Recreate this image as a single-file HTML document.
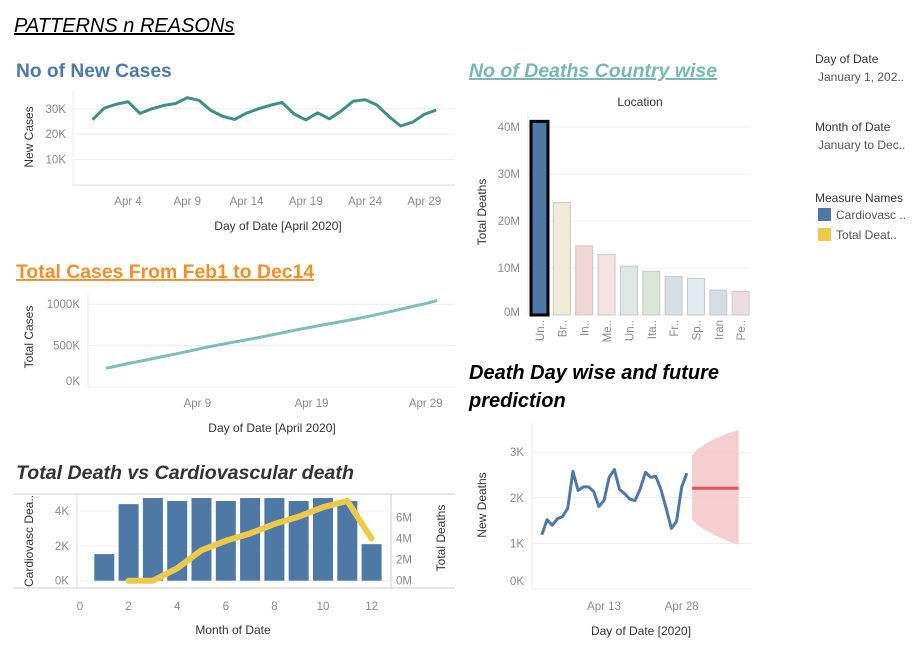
<!DOCTYPE html>
<html><head><meta charset="utf-8">
<style>
html,body{margin:0;padding:0;background:#fff;}
svg{display:block;font-family:"Liberation Sans",sans-serif;}
.tick{fill:#8a8a8a;font-size:11.5px;}
.ttl{fill:#333;font-size:12px;}
.grid{stroke:#ececec;stroke-width:1;}
</style></head>
<body>
<svg id="s" width="919" height="657" viewBox="0 0 919 657">
<text x="14" y="32" font-size="20" font-style="italic" fill="#000" text-decoration="underline">PATTERNS n REASONs</text>
<text x="16" y="77" font-size="19.2" font-weight="bold" fill="#4e79a7">No of New Cases</text>
<text x="16" y="278" font-size="19.4" font-weight="bold" fill="#f28e2b" text-decoration="underline">Total Cases From Feb1 to Dec14</text>
<text x="16" y="479" font-size="19.6" font-weight="bold" font-style="italic" fill="#333">Total Death vs Cardiovascular death</text>
<text x="469" y="77" font-size="19.5" font-weight="bold" font-style="italic" fill="#76b7b2" text-decoration="underline">No of Deaths Country wise</text>
<text x="469" y="379" font-size="20" font-weight="bold" font-style="italic" fill="#000">Death Day wise and future</text>
<text x="469" y="407" font-size="20" font-weight="bold" font-style="italic" fill="#000">prediction</text>

<g>
<text x="815" y="63" font-size="12" fill="#333">Day of Date</text>
<text x="818" y="81" font-size="12" fill="#555">January 1, 202..</text></g>
<g>
<text x="815" y="131" font-size="12" fill="#333">Month of Date</text>
<text x="818" y="149" font-size="12" fill="#555">January to Dec..</text></g>
<g>
<text x="815" y="202" font-size="12" fill="#333">Measure Names</text>
<g><rect x="818" y="208" width="13" height="13" fill="#4e79a7"/><text x="836" y="219" font-size="12" fill="#555">Cardiovasc ..</text></g>
<g><rect x="818" y="228" width="13" height="13" fill="#edc948"/><text x="836" y="239" font-size="12" fill="#555">Total Deat..</text></g>
</g>
</svg>
<script>
// Chart 1: New cases (K), Apr 1..30
const newCases=[25.7,30.3,31.8,32.8,28.2,30,31.3,32.1,34.4,33.3,29.3,27,25.8,28.3,30,31.4,32.5,28,25.6,28.4,26,29.2,33,33.6,31.5,27,23.2,24.7,27.8,29.5];
const newCasesTicks=[10,20,30];
const newCasesDays=[4,9,14,19,24,29];
// Chart 2: Total cases (K)
const totalCases=[226,255,285,312,340,368,396,425,455,485,512,538,562,588,614,642,670,698,724,750,774,800,826,854,884,914,946,978,1008,1045];
const totalCasesTicks=[0,500,1000];
const totalCasesDays=[9,19,29];
// Chart 3: cardio (K) by month, total deaths (M)
const months=[1,2,3,4,5,6,7,8,9,10,11,12];
const cardioDeaths=[1.53,4.4,4.75,4.58,4.75,4.58,4.75,4.75,4.58,4.75,4.58,2.1];
const lineMonths=[2,3,4,5,6,7,8,9,10,11,12];
const totalDeathsM=[0,0,1.18,2.9,3.8,4.5,5.4,6.1,7.0,7.6,4.0];
const monthTicks=[0,2,4,6,8,10,12];
const cardioTicks=[0,2,4];
const totalTicks=[0,2,4,6];
// Chart 4: deaths by location (M)
const locations=["Un..","Br..","In..","Me..","Un..","Ita..","Fr..","Sp..","Iran","Pe.."];
const locDeaths=[41.2,23.9,14.7,12.9,10.4,9.3,8.2,7.8,5.3,5.0];
const locColors=["#4e79a7","#f1ead6","#f0d6d6","#f3e2e2","#dfe7e4","#dbe6d8","#d7dee6","#e3eaf1","#d6dce3","#eddde2"];
const locTicks=[0,10,20,30,40];
// Chart 5: new deaths (K) Apr 1..29, forecast Apr 30..39
const newDeaths=[1.19,1.52,1.40,1.54,1.59,1.77,2.58,2.16,2.24,2.24,2.14,1.81,1.94,2.45,2.62,2.18,2.09,1.97,1.94,2.2,2.56,2.45,2.47,2.18,1.77,1.33,1.48,2.24,2.54];
const fcDays=[30,31,32,33,34,35,36,37,38,39];
const fcMean=[2.21,2.21,2.21,2.21,2.21,2.21,2.21,2.21,2.21,2.21];
const fcUpper=[2.94,3.06,3.14,3.21,3.27,3.32,3.37,3.41,3.45,3.49];
const fcLower=[1.53,1.41,1.33,1.26,1.2,1.15,1.1,1.05,1.01,0.97];
const deathTicks=[0,1,2,3];
const deathDays=[13,28];

const S=document.getElementById('s');const NS='http://www.w3.org/2000/svg';
function el(t,a,p){const e=document.createElementNS(NS,t);for(const k in a)e.setAttribute(k,a[k]);(p||S).appendChild(e);return e;}
function txt(x,y,s,cls,extra,p){const e=el('text',Object.assign({x:x,y:y,class:cls},extra||{}),p);e.textContent=s;return e;}
function grp(name){const g=el('g',{});return g;}

// ---- Chart 1
(function(){const g=grp('new-cases-chart');
const X=d=>92.5+(d-1)*11.85, Y=v=>184.7-v*2.53;
el('line',{x1:73,y1:90,x2:73,y2:185,class:'grid'},g);
el('line',{x1:73,y1:185,x2:455,y2:185,stroke:'#ddd'},g);
newCasesTicks.forEach(t=>{el('line',{x1:73,y1:Y(t),x2:455,y2:Y(t),class:'grid'},g);const l=txt(66,Y(t)+4,t+'K','tick',{'text-anchor':'end'},g);});
newCasesDays.forEach(d=>{const l=txt(X(d),205,'Apr '+d,'tick',{'text-anchor':'middle'},g);});
const p=el('path',{d:newCases.map((v,i)=>(i?'L':'M')+X(i+1)+','+Y(v)).join(''),fill:'none',stroke:'#3e9085','stroke-width':3,'stroke-linejoin':'round'},g);

const a=txt(278,230,'Day of Date [April 2020]','ttl',{'text-anchor':'middle'},g);
const b=txt(0,0,'New Cases','ttl',{'text-anchor':'middle',transform:'translate(33,137) rotate(-90)'},g);
})();

// ---- Chart 2
(function(){const g=grp('total-cases-chart');
const X=d=>106+(d-1)*11.42, Y=v=>387-v*0.0828;
el('line',{x1:88,y1:292,x2:88,y2:387,class:'grid'},g);
el('line',{x1:88,y1:387,x2:455,y2:387,stroke:'#ddd'},g);
totalCasesTicks.forEach(t=>{el('line',{x1:88,y1:Y(t),x2:455,y2:Y(t),class:'grid'},g);const l=txt(80,Y(t)+4-(t==0?6:0),t+'K','tick',{'text-anchor':'end'},g);});
totalCasesDays.forEach(d=>{const l=txt(X(d),407,'Apr '+d,'tick',{'text-anchor':'middle'},g);});
const p=el('path',{d:totalCases.map((v,i)=>(i?'L':'M')+X(i+1)+','+Y(v)).join(''),fill:'none',stroke:'#7bbfb5','stroke-width':3,'stroke-linejoin':'round'},g);

const a=txt(272,432,'Day of Date [April 2020]','ttl',{'text-anchor':'middle'},g);
const b=txt(0,0,'Total Cases','ttl',{'text-anchor':'middle',transform:'translate(33,337) rotate(-90)'},g);
})();

// ---- Chart 3
(function(){const g=grp('death-vs-cardio-chart');
const X=m=>80+m*24.3, YL=v=>580.7-v*17.4, YR=v=>580.7-v*10.5;
el('line',{x1:13,y1:494,x2:455,y2:494,stroke:'#ccc'},g);
el('line',{x1:13,y1:588,x2:455,y2:588,stroke:'#ccc'},g);
el('line',{x1:77,y1:494,x2:77,y2:588,stroke:'#ddd'},g);
el('line',{x1:391,y1:494,x2:391,y2:588,stroke:'#ccc'},g);
el('line',{x1:80,y1:580.7,x2:390,y2:580.7,stroke:'#bbb','stroke-dasharray':'1,2'},g);
cardioTicks.forEach(t=>{el('line',{x1:77,y1:YL(t),x2:391,y2:YL(t),stroke:'#f3f3f3'},g);const l=txt(69,YL(t)+4,t+'K','tick',{'text-anchor':'end'},g);});
totalTicks.forEach(t=>{const l=txt(396,YR(t)+4,t+'M','tick',{},g);});
monthTicks.forEach(t=>{const l=txt(X(t),610,String(t),'tick',{'text-anchor':'middle'},g);});
months.forEach((m,i)=>{const r=el('rect',{x:X(m)-10,y:YL(cardioDeaths[i]),width:20,height:580.7-YL(cardioDeaths[i]),fill:'#4e79a7'},g);
});
const p=el('path',{d:lineMonths.map((m,i)=>(i?'L':'M')+X(m)+','+YR(totalDeathsM[i])).join(''),fill:'none',stroke:'#edc948','stroke-width':6,'stroke-linejoin':'round','stroke-linecap':'round'},g);

const a=txt(233,634,'Month of Date','ttl',{'text-anchor':'middle'},g);
const b=txt(0,0,'Cardiovasc Dea..','ttl',{'text-anchor':'middle',transform:'translate(33,541) rotate(-90)'},g);
const c=txt(0,0,'Total Deaths','ttl',{'text-anchor':'middle',transform:'translate(445,538) rotate(-90)'},g);
})();

// ---- Chart 4
(function(){const g=grp('country-deaths-chart');
const X=i=>531+i*22.35, Y=v=>315-v*4.7;
el('line',{x1:528,y1:112,x2:528,y2:315,class:'grid'},g);
el('line',{x1:528,y1:315,x2:751,y2:315,stroke:'#ddd'},g);
locTicks.forEach(t=>{el('line',{x1:528,y1:Y(t),x2:751,y2:Y(t),class:'grid'},g);const l=txt(520,Y(t)+4-(t==0?3:0),t+'M','tick',{'text-anchor':'end'},g);});
locDeaths.forEach((v,i)=>{const r=el('rect',{x:X(i),y:Y(v),width:17,height:315-Y(v),fill:locColors[i],stroke:i==0?'#000':'#c8c8c8','stroke-width':i==0?3:1},g);

const l=txt(0,0,locations[i],'tick',{'text-anchor':'end',transform:'translate('+(X(i)+13)+',320) rotate(-90)'},g);});
const a=txt(640,106,'Location','ttl',{'text-anchor':'middle'},g);
const b=txt(0,0,'Total Deaths','ttl',{'text-anchor':'middle',transform:'translate(486,212) rotate(-90)'},g);
})();

// ---- Chart 5
(function(){const g=grp('new-deaths-chart');
const X=d=>604+(d-13)*5.18, Y=v=>589-v*45.6;
el('line',{x1:532,y1:422,x2:532,y2:589,class:'grid'},g);
el('line',{x1:532,y1:589,x2:752,y2:589,class:'grid'},g);
deathTicks.forEach(t=>{if(t>0)el('line',{x1:532,y1:Y(t),x2:752,y2:Y(t),class:'grid'},g);const l=txt(524,Y(t)+4-(t==0?8:0),t+'K','tick',{'text-anchor':'end'},g);});
deathDays.forEach(d=>{const l=txt(X(d),610,'Apr '+d,'tick',{'text-anchor':'middle'},g);});
const band=el('path',{d:fcDays.map((d,i)=>(i?'L':'M')+X(d)+','+Y(fcUpper[i])).join('')+fcDays.slice().reverse().map((d,j)=>'L'+X(d)+','+Y(fcLower[fcDays.length-1-j])).join('')+'Z',fill:'#f5c6c8',opacity:0.85},g);

const fl=el('path',{d:fcDays.map((d,i)=>(i?'L':'M')+X(d)+','+Y(fcMean[i])).join(''),fill:'none',stroke:'#e15759','stroke-width':3},g);

const p=el('path',{d:newDeaths.map((v,i)=>(i?'L':'M')+X(i+1)+','+Y(v)).join(''),fill:'none',stroke:'#4e79a7','stroke-width':3,'stroke-linejoin':'round'},g);

const a=txt(641,635,'Day of Date [2020]','ttl',{'text-anchor':'middle'},g);
const b=txt(0,0,'New Deaths','ttl',{'text-anchor':'middle',transform:'translate(486,505) rotate(-90)'},g);
})();
</script>
</body></html>
